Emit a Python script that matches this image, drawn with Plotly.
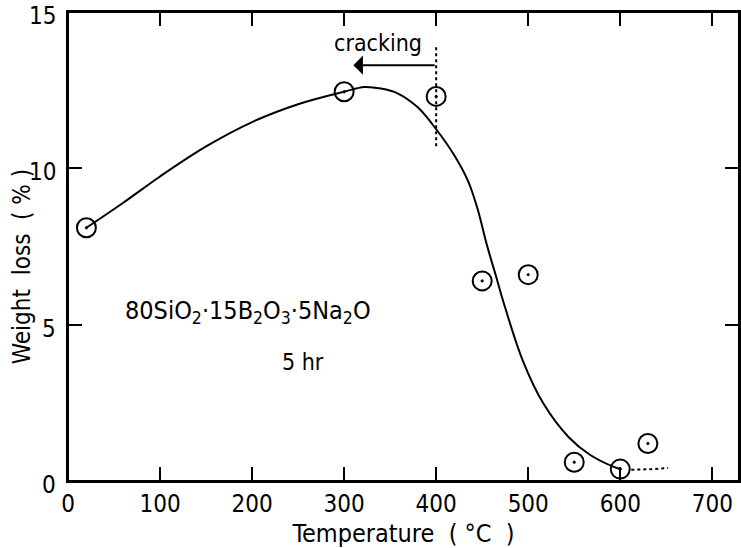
import plotly.graph_objects as go

# measured points (Temperature °C, weight loss %)
pt_x = [20, 300, 400, 450, 500, 550, 600, 630]
pt_y = [8.1, 12.45, 12.3, 6.4, 6.6, 0.6, 0.38, 1.2]

# hand-drawn smooth curve
curve_x = [20, 60, 100, 150, 200, 250, 300, 322, 340, 358, 380, 400, 420, 435, 445, 455, 465, 475, 494, 516, 544, 567, 593, 600]
curve_y = [8.1, 8.9, 9.74, 10.7, 11.48, 12.05, 12.45, 12.6, 12.55, 12.4, 11.95, 11.25, 10.4, 9.57, 8.7, 7.56, 6.55, 5.54, 3.86, 2.5, 1.4, 0.84, 0.45, 0.38]

# dotted guides
crack_x = [400, 400]
crack_y = [13.87, 10.67]
tail_x = [612, 635, 652]
tail_y = [0.36, 0.38, 0.42]

x_ticks = [0, 100, 200, 300, 400, 500, 600, 700]
y_ticks = [0, 5, 10, 15]

FONT = "DejaVu Sans Condensed, Liberation Sans Narrow, Liberation Sans, sans-serif"

fig = go.Figure()
fig.add_trace(go.Scatter(x=curve_x, y=curve_y, mode="lines",
                         line=dict(color="black", width=2, shape="spline", smoothing=1.0),
                         hoverinfo="skip", showlegend=False))
fig.add_trace(go.Scatter(x=crack_x, y=crack_y, mode="lines",
                         line=dict(color="black", width=2, dash="dot"),
                         showlegend=False))
fig.add_trace(go.Scatter(x=tail_x, y=tail_y, mode="lines",
                         line=dict(color="black", width=2, dash="dot"),
                         showlegend=False))
fig.add_trace(go.Scatter(x=pt_x, y=pt_y, mode="markers",
                         marker=dict(symbol="circle-open-dot", size=19, color="black",
                                     line=dict(color="black", width=2)),
                         showlegend=False))

fig.add_annotation(x=310, y=13.3, ax=400, ay=13.3, xref="x", yref="y", axref="x", ayref="y",
                   text="", showarrow=True, arrowhead=1, arrowsize=1.6, arrowwidth=2,
                   arrowcolor="black")
fig.add_annotation(x=337, y=14.0, text="cracking", showarrow=False,
                   font=dict(family=FONT, size=23, color="black"))
fig.add_annotation(x=196, y=5.4,
                   text="80SiO<sub>2</sub>·15B<sub>2</sub>O<sub>3</sub>·5Na<sub>2</sub>O",
                   showarrow=False, font=dict(family=FONT, size=25, color="black"))
fig.add_annotation(x=255, y=3.8, text="5 hr", showarrow=False,
                   font=dict(family=FONT, size=23, color="black"))

# y tick labels (drawn slightly below their ticks, as in the original)
for v in y_ticks:
    fig.add_annotation(x=0, xref="paper", y=v, yref="y", text=str(v), showarrow=False,
                       xanchor="right", yanchor="middle", xshift=-10, yshift=-4,
                       font=dict(family=FONT, size=24, color="black"))

# y-axis title
fig.add_annotation(x=0, xref="paper", y=0.456, yref="paper", text="Weight  loss  ( % )",
                   textangle=-90, showarrow=False, xanchor="center", yanchor="middle",
                   xshift=-46, font=dict(family=FONT, size=24, color="black"))

# frame
fig.add_shape(type="rect", xref="paper", yref="paper", x0=0, y0=0, x1=1, y1=1,
              line=dict(color="black", width=2), layer="above")

axis_common = dict(showline=True, linecolor="black", linewidth=2, mirror="ticks",
                   ticks="inside", ticklen=14, tickwidth=2, tickcolor="black",
                   showgrid=False, zeroline=False, automargin=False,
                   tickfont=dict(family=FONT, size=24, color="black"))

fig.update_xaxes(range=[0, 729], tickvals=x_ticks, ticktext=[str(v) for v in x_ticks],
                 ticklabelstandoff=0,
                 title=dict(text="Temperature  ( °C  )", font=dict(family=FONT, size=25, color="black"),
                            standoff=9),
                 **axis_common)
fig.update_yaxes(range=[0, 15], tickvals=y_ticks, showticklabels=False,
                 **axis_common)

fig.update_layout(width=741, height=548, plot_bgcolor="white", paper_bgcolor="white",
                  margin=dict(l=68, r=2, t=12, b=67), showlegend=False)

fig.write_html("out.html", config={"displayModeBar": False},
               post_script="document.body.style.margin='0';document.body.style.overflow='hidden';")
